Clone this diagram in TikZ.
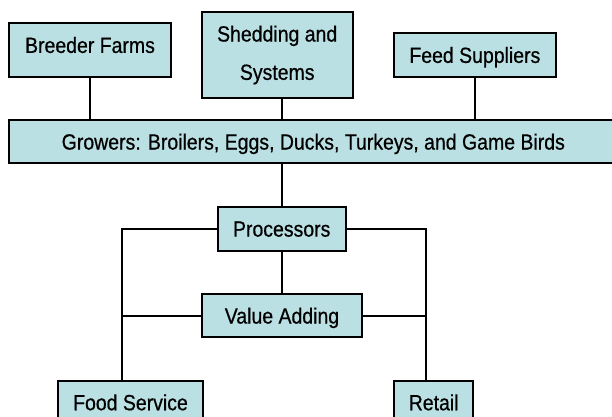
\documentclass[tikz,border=0pt]{standalone}
\usepackage{fontspec}
\setmainfont{Liberation Sans}[FakeStretch=0.885, FakeBold=0.6]
\usetikzlibrary{shadows}
\definecolor{boxfill}{RGB}{187,224,227}
\tikzset{
  box/.style={draw=black, line width=1.8pt, fill=boxfill, inner sep=0pt,
    font=\fontsize{22}{38.3}\selectfont, text height=15.8pt, text depth=0pt,
    drop shadow={shadow xshift=1pt, shadow yshift=-1pt, fill=black!55, opacity=1}},
  link/.style={line width=1.9pt, draw=black}
}
\begin{document}
\begin{tikzpicture}[x=1pt,y=1pt]
\useasboundingbox (0,0) rectangle (612,416);
\clip (0,0) rectangle (612,416);
\fill[white] (0,0) rectangle (612,416);
% top row
\node[box, minimum width=161.4pt, minimum height=54pt, text depth=9.4pt] (breeder) at (90,366.3) {Breeder Farms};
\node[box, minimum width=151pt, minimum height=86.6pt, align=center, text height=, text depth=] (shedding) at (277.2,361) {Shedding and\\Systems};
\node[box, minimum width=161.7pt, minimum height=43.4pt] (feed) at (474.85,361) {Feed Suppliers};
% growers bar
\node[box, minimum width=608pt, minimum height=43.3pt] (growers) at (313.3,274.35) {Growers: Broilers, Eggs, Ducks, Turkeys, and Game Birds};
% processing
\node[box, minimum width=128pt, minimum height=44pt] (proc) at (281.7,187.3) {Processors};
\node[box, minimum width=160.6pt, minimum height=43.3pt] (value) at (282,100.35) {Value Adding};
% outlets
\node[box, minimum width=145.6pt, minimum height=43.3pt] (food) at (130.5,13.65) {Food Service};
\node[box, minimum width=79.3pt, minimum height=43.3pt] (retail) at (433.65,13.65) {Retail};
% bus coordinates
\coordinate (lbus) at (122,187.3);
\coordinate (rbus) at (426,187.3);
% connectors
\draw[link] (breeder.south) -- (breeder.south |- growers.north);
\draw[link] (shedding.south -| proc.north) -- (growers.north -| proc.north);
\draw[link] (feed.south) -- (feed.south |- growers.north);
\draw[link] (growers.south -| proc.north) -- (proc.north);
\draw[link] (proc.south) -- (value.north -| proc.south);
\draw[link] (proc.west) -- (lbus) -- (lbus |- food.north);
\draw[link] (value.west) -- (value.west -| lbus);
\draw[link] (proc.east) -- (rbus) -- (rbus |- retail.north);
\draw[link] (value.east) -- (value.east -| rbus);
\end{tikzpicture}
\end{document}
